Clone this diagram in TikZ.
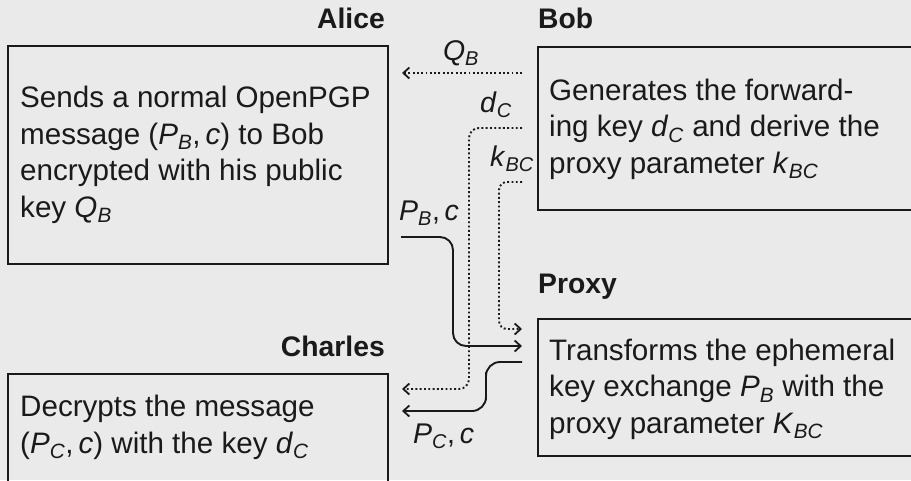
\documentclass[tikz,border=0pt]{standalone}
\usepackage{fontspec}
\setmainfont{Liberation Sans}
\usetikzlibrary{arrows.meta}
\definecolor{bg}{HTML}{EAEAEA}
\definecolor{ink}{HTML}{1A1A1A}
\newcommand{\vv}[2]{\textit{#1}\textsubscript{\textit{#2}}}
\begin{document}
\begin{tikzpicture}[x=1pt,y={(0pt,-1pt)},
  box/.style={draw=ink, line width=2pt, rectangle, inner sep=0pt, anchor=north west},
  body/.style={anchor=base west, align=left, inner sep=0pt, text=ink, font=\fontsize{29.6}{36.5}\selectfont},
  who/.style={inner sep=0pt, text=ink, font=\fontsize{28.3}{32}\selectfont\bfseries},
  lbl/.style={inner sep=0pt, text=ink, font=\fontsize{28.5}{34}\selectfont},
  tip/.style={-{Straight Barb[length=6pt,width=11pt,line width=1.8pt]}},
  solidarrow/.style={draw=ink, line width=1.9pt, tip},
  dotarrow/.style={draw=ink, line width=1.9pt, dash pattern=on 1.9pt off 2.4pt, tip}]
\path[use as bounding box, fill=bg] (0,0) rectangle (911,480);
\clip (0,0) rectangle (911,480);

% boxes
\node[box, minimum width=380pt, minimum height=218pt] (alice) at (7,45) {};
\node[box, minimum width=390pt, minimum height=163pt] (bob) at (537,46) {};
\node[box, minimum width=390pt, minimum height=137pt] (proxy) at (537,318) {};
\node[box, minimum width=380pt, minimum height=140pt] (charles) at (7,373) {};

% party names
\node[who, anchor=base east] (aliceName) at (385,28) {Alice};
\node[who, anchor=base west] (bobName) at (538,28) {Bob};
\node[who, anchor=base west] (proxyName) at (538,293) {Proxy};
\node[who, anchor=base east] (charlesName) at (385,356) {Charles};

% box texts (anchored at the baseline of their last line)
\node[body] (aliceText) at (20,217) {Sends a normal OpenPGP\\message (\vv{P}{B},\,\textit{c}) to Bob\\encrypted with his public\\key \vv{Q}{B}};
\node[body] (bobText) at (549,173) {Generates the forward-\\ing key \vv{d}{C} and derive the\\proxy parameter \vv{k}{BC}};
\node[body] (proxyText) at (549,433) {Transforms the ephemeral\\key exchange \vv{P}{B} with the\\proxy parameter \vv{K}{BC}};
\node[body] (charlesText) at (20,453) {Decrypts the message\\(\vv{P}{C},\,\textit{c}) with the key \vv{d}{C}};

% connector end points
\coordinate (qs) at (522,73);  \coordinate (qe) at (402,73);
\coordinate (ds) at (522,128); \coordinate (dc) at (469,389); \coordinate (de) at (402,389);
\coordinate (ks) at (522,182); \coordinate (kc) at (499,329); \coordinate (ke) at (522,329);
\coordinate (ps) at (401,237); \coordinate (pc) at (453,346); \coordinate (pe) at (522,346);
\coordinate (cs) at (522,362); \coordinate (cc) at (486,386); \coordinate (ce) at (402,411);

% connectors
\draw[solidarrow, rounded corners=13pt] (ps) -| (pc) -- (pe);
\draw[solidarrow, rounded corners=14pt] (cs) -| (cc) |- (ce);
\draw[dotarrow] (qs) -- (qe);
\draw[dotarrow, rounded corners=10pt] (ds) -| (dc) -- (de);
\draw[dotarrow, rounded corners=8pt] (ks) -| (kc) -- (ke);

% connector labels
\node[lbl, anchor=base] (qLbl) at (461,60) {\vv{Q}{B}};
\node[lbl, anchor=base west] (dLbl) at (480,112) {\vv{d}{C}};
\node[lbl, anchor=base west] (kLbl) at (490,166) {\vv{k}{BC}};
\node[lbl, anchor=base west] (pbLbl) at (399,220) {\vv{P}{B},\,\textit{c}};
\node[lbl, anchor=base west] (pcLbl) at (413,443) {\vv{P}{C},\,\textit{c}};
\end{tikzpicture}
\end{document}
